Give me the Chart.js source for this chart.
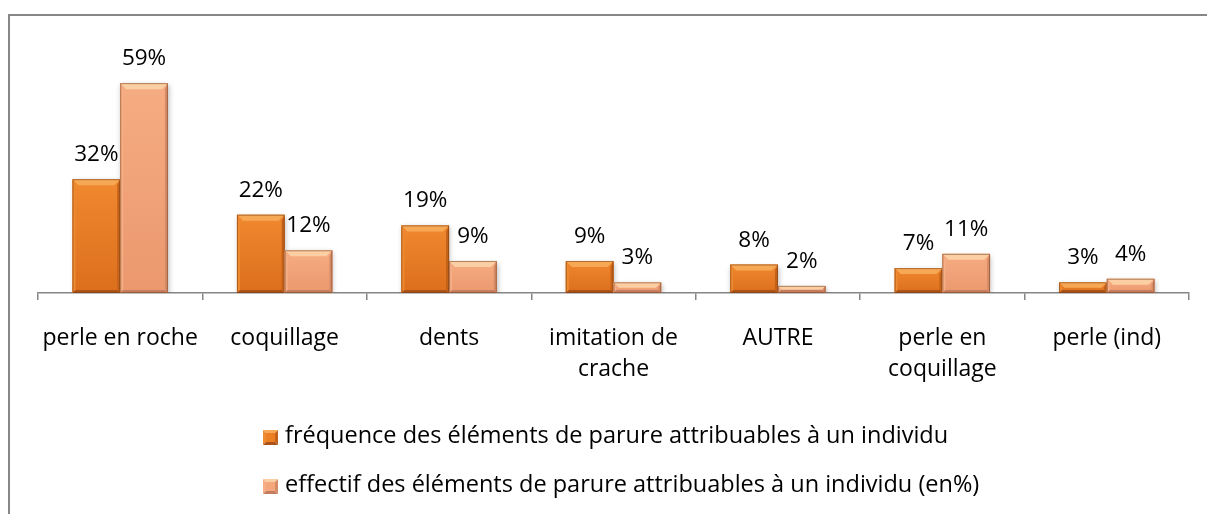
<!DOCTYPE html>
<html>
<head>
<meta charset="utf-8">
<script src="https://cdn.jsdelivr.net/npm/chart.js@4/dist/chart.umd.min.js"></script>
<style>
html,body{margin:0;padding:0;background:#fff;}
#wrap{position:relative;width:1207px;height:514px;}
canvas{display:block;}
</style>
</head>
<body>
<div id="wrap"><canvas id="c" width="1207" height="514"></canvas></div>
<script>
const categories = [
  "perle en roche",
  "coquillage",
  "dents",
  ["imitation de", "crache"],
  "AUTRE",
  ["perle en", "coquillage"],
  "perle (ind)"
];
const seriesNames = [
  "fréquence des éléments de parure attribuables à un individu",
  "effectif des éléments de parure attribuables à un individu (en%)"
];
const frequence = [32, 22, 19, 9, 8, 7, 3];
const effectif = [59, 12, 9, 3, 2, 11, 4];

const FONT = "'Open Sans', 'DejaVu Sans', sans-serif";
const palettes = [
  {base: '#EC7F24', top: '#F7A855', left: '#EE8A30', right: '#C4621A', bottom: '#A95318', light: '#F08930', dark: '#DC6E1C'},
  {base: '#F4A67C', top: '#FCCEA3', left: '#F5AE86', right: '#D68C68', bottom: '#C47D5E', light: '#F6AC82', dark: '#EB986E'}
];

function bevel(ctx, left, top, right, bottom, b, p) {
  const h = bottom - top;
  const bb = Math.min(b, h / 2);
  const g = ctx.createLinearGradient(0, top, 0, bottom);
  g.addColorStop(0, p.light);
  g.addColorStop(1, p.dark);
  ctx.fillStyle = g;
  ctx.fillRect(left, top, right - left, h);
  ctx.fillStyle = p.top;
  ctx.beginPath();
  ctx.moveTo(left, top); ctx.lineTo(right, top);
  ctx.lineTo(right - bb, top + bb); ctx.lineTo(left + bb, top + bb); ctx.closePath(); ctx.fill();
  const sb = Math.min(3, bb);
  ctx.fillStyle = p.left;
  ctx.beginPath();
  ctx.moveTo(left, top); ctx.lineTo(left + sb, top + bb);
  ctx.lineTo(left + sb, bottom - sb); ctx.lineTo(left, bottom); ctx.closePath(); ctx.fill();
  ctx.fillStyle = p.right;
  ctx.beginPath();
  ctx.moveTo(right, top); ctx.lineTo(right - sb, top + bb);
  ctx.lineTo(right - sb, bottom - sb); ctx.lineTo(right, bottom); ctx.closePath(); ctx.fill();
  ctx.fillStyle = p.bottom;
  ctx.beginPath();
  ctx.moveTo(left, bottom); ctx.lineTo(right, bottom);
  ctx.lineTo(right - sb, bottom - sb); ctx.lineTo(left + sb, bottom - sb); ctx.closePath(); ctx.fill();
  ctx.strokeStyle = 'rgba(110,55,20,0.5)';
  ctx.lineWidth = 1;
  ctx.strokeRect(left + 0.5, top + 0.5, right - left - 1, h - 1);
}

const decoPlugin = {
  id: 'deco',
  beforeDraw(chart) {
    const ctx = chart.ctx;
    ctx.save();
    ctx.strokeStyle = '#878787';
    ctx.lineWidth = 2;
    ctx.strokeRect(9, 15, 1207, 520);
    ctx.restore();
  },
  beforeDatasetsDraw(chart) {
    const ctx = chart.ctx;
    ctx.save();
    ctx.shadowColor = 'rgba(0,0,0,0.28)';
    ctx.shadowBlur = 5;
    ctx.shadowOffsetX = 1;
    ctx.shadowOffsetY = 2;
  },
  afterDatasetsDraw(chart) {
    const ctx = chart.ctx;
    ctx.restore();
    ctx.save();
    chart.data.datasets.forEach((ds, di) => {
      const meta = chart.getDatasetMeta(di);
      meta.data.forEach((el) => {
        const p = el.getProps(['x', 'y', 'base', 'width'], true);
        bevel(ctx, p.x - p.width / 2, p.y, p.x + p.width / 2, p.base, 6, palettes[di]);
      });
    });
    ctx.fillStyle = '#000';
    ctx.font = '22.5px ' + FONT;
    ctx.textAlign = 'center';
    ctx.textBaseline = 'alphabetic';
    chart.data.datasets.forEach((ds, di) => {
      const meta = chart.getDatasetMeta(di);
      meta.data.forEach((el, i) => {
        ctx.fillText(ds.data[i] + '%', el.x, el.y - 18);
      });
    });
    ctx.restore();
  },
  afterDraw(chart) {
    const ctx = chart.ctx;
    ctx.save();
    const x0 = 263, size = 15;
    const baselines = [443, 492];
    chart.data.datasets.forEach((ds, di) => {
      const p = palettes[di];
      const by = baselines[di];
      const top = by - 13, left = x0, right = x0 + size, bottom = top + size;
      const cx = (left + right) / 2, cy = (top + bottom) / 2;
      const tri = (pts, col) => {
        ctx.fillStyle = col; ctx.beginPath();
        ctx.moveTo(pts[0][0], pts[0][1]);
        for (let k = 1; k < pts.length; k++) ctx.lineTo(pts[k][0], pts[k][1]);
        ctx.closePath(); ctx.fill();
      };
      tri([[left, top], [right, top], [cx, cy]], p.top);
      tri([[left, top], [left, bottom], [cx, cy]], p.left);
      tri([[right, top], [right, bottom], [cx, cy]], p.right);
      tri([[left, bottom], [right, bottom], [cx, cy]], p.bottom);
      ctx.fillStyle = p.base;
      ctx.fillRect(left + 3, top + 3, size - 6, size - 6);
      ctx.fillStyle = '#000';
      ctx.font = '23.5px ' + FONT;
      ctx.textAlign = 'left';
      ctx.textBaseline = 'alphabetic';
      ctx.fillText(ds.label, x0 + 22, by);
    });
    ctx.restore();
  }
};

new Chart(document.getElementById('c'), {
  type: 'bar',
  data: {
    labels: categories,
    datasets: [
      {label: seriesNames[0], data: frequence, backgroundColor: palettes[0].base},
      {label: seriesNames[1], data: effectif, backgroundColor: palettes[1].base}
    ]
  },
  options: {
    responsive: false,
    animation: false,
    events: [],
    layout: {padding: {left: 38, right: 18, top: 44, bottom: 101}},
    categoryPercentage: 0.58,
    barPercentage: 1.0,
    plugins: {legend: {display: false}, tooltip: {enabled: false}},
    scales: {
      y: {display: false, min: 0, max: 70},
      x: {
        afterFit: (s) => { s.height = 120; },
        border: {display: true, color: '#868686', width: 1.5},
        grid: {display: true, drawOnChartArea: false, drawTicks: true, tickLength: 7, color: '#868686', lineWidth: 1.5, offset: true},
        ticks: {color: '#000', padding: 23, maxRotation: 0, autoSkip: false, font: {family: FONT, size: 23, lineHeight: '31px'}}
      }
    }
  },
  plugins: [decoPlugin]
});
</script>
</body>
</html>
